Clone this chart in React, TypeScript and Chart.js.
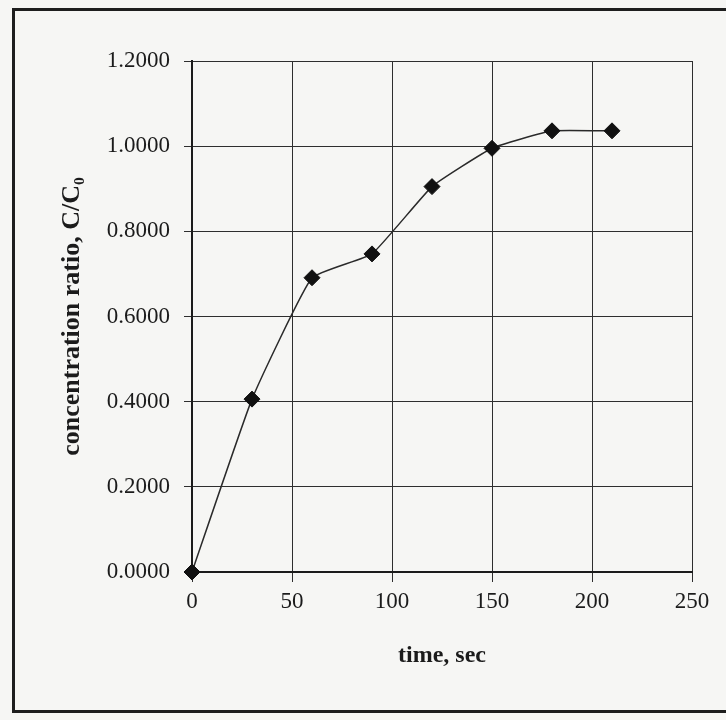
import React, { useEffect, useRef } from "react";
import { Chart, registerables } from "chart.js";

Chart.register(...registerables);

// Breakthrough measurement: concentration ratio against elapsed time
const timeSec = [0, 30, 60, 90, 120, 150, 180, 210];
const concRatio = [0, 0.406, 0.691, 0.747, 0.905, 0.995, 1.036, 1.036];

// Axis tick values
const xTickValues = [0, 50, 100, 150, 200, 250];
const yTickValues = [0, 0.2, 0.4, 0.6, 0.8, 1.0, 1.2];

const SERIF = "'Liberation Serif', 'Times New Roman', Times, serif";
const INK = "#1b1b1b";
const PAPER = "#f6f6f4";

export default function App() {
  const canvasRef = useRef<HTMLCanvasElement | null>(null);

  useEffect(() => {
    document.body.style.margin = "0";
    document.body.style.background = PAPER;
    document.body.style.overflow = "hidden";
    const canvas = canvasRef.current;
    if (!canvas) return;

    const chart = new Chart(canvas, {
      type: "line",
      data: {
        datasets: [
          {
            data: timeSec.map((t, i) => ({ x: t, y: concRatio[i] })),
            borderColor: "#2a2a2a",
            borderWidth: 1.5,
            tension: 0.12,
            pointStyle: "rectRot",
            pointRadius: 8,
            pointBackgroundColor: "#111",
            pointBorderColor: "#111",
            pointBorderWidth: 1,
            clip: false,
          },
        ],
      },
      options: {
        animation: false,
        responsive: false,
        devicePixelRatio: 1,
        layout: { padding: { top: 61, right: 34, left: 0, bottom: 0 } },
        plugins: {
          legend: { display: false },
          tooltip: { enabled: false },
        },
        scales: {
          x: {
            type: "linear",
            min: 0,
            max: 250,
            afterBuildTicks: (s: any) => {
              s.ticks = xTickValues.map((v) => ({ value: v }));
            },
            afterFit: (s: any) => {
              s.height = 148;
            },
            grid: { color: "#2e2e2e", lineWidth: 1, tickLength: 10, drawTicks: true },
            border: { color: INK, width: 2 },
            ticks: {
              font: { family: SERIF, size: 23 },
              color: INK,
              padding: 6,
              maxRotation: 0,
            },
            title: {
              display: true,
              text: "time, sec",
              font: { family: SERIF, size: 24, weight: "bold" },
              color: INK,
              padding: { top: 0, bottom: 50 },
            },
          },
          y: {
            type: "linear",
            min: 0,
            max: 1.2,
            afterBuildTicks: (s: any) => {
              s.ticks = yTickValues.map((v) => ({ value: v }));
            },
            afterFit: (s: any) => {
              s.width = 192;
            },
            grid: { color: "#2e2e2e", lineWidth: 1, tickLength: 8, drawTicks: true },
            border: { color: INK, width: 2 },
            ticks: {
              font: { family: SERIF, size: 23 },
              color: INK,
              padding: 14,
              callback: (v: any) => Number(v).toFixed(4),
            },
            title: {
              display: true,
              text: "concentration ratio, C/C\u2080",
              font: { family: SERIF, size: 26, weight: "bold" },
              color: INK,
              padding: { top: 57, bottom: 0 },
            },
          },
        },
      },
    });

    return () => chart.destroy();
  }, []);

  return (
    <div style={{ position: "relative", width: 726, height: 720, background: PAPER }}>
      <canvas ref={canvasRef} width={726} height={720} style={{ display: "block" }} />
      <div
        style={{
          position: "absolute",
          left: 12,
          top: 8,
          width: 714,
          height: 705,
          boxSizing: "border-box",
          borderLeft: "3px solid #1e1e1e",
          borderTop: "3px solid #1e1e1e",
          borderBottom: "3px solid #1e1e1e",
          pointerEvents: "none",
        }}
      />
    </div>
  );
}
